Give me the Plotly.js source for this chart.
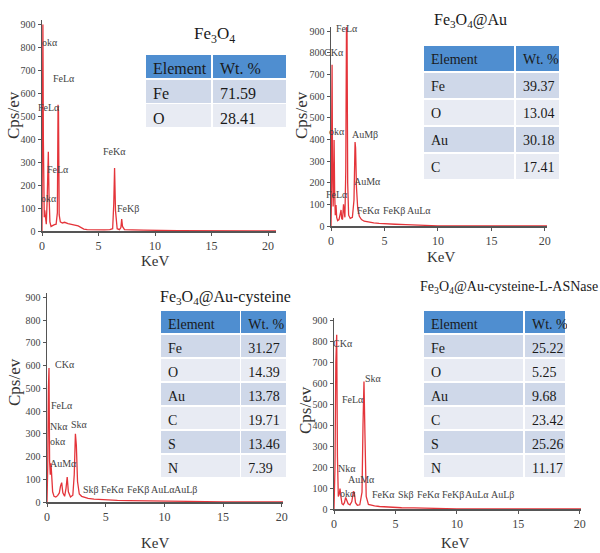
<!DOCTYPE html>
<html>
<head>
<meta charset="utf-8">
<script src="https://cdn.plot.ly/plotly-3.0.1.min.js"></script>
<style>html,body{margin:0;padding:0;background:#fff;}#chart{width:600px;height:553px;}</style>
</head>
<body>
<div id="chart"></div>
<script>
// ---------- data ----------
// Panel 1: Fe3O4
const kev1 = [0, 0.04, 0.08, 0.12, 0.16, 0.2, 0.24, 0.3, 0.38, 0.46, 0.52, 0.56, 0.62, 0.7, 0.8, 0.95, 1.1, 1.25, 1.36, 1.42, 1.46, 1.52, 1.62, 1.8, 2.0, 2.3, 2.6, 2.9, 3.2, 3.5, 3.7, 4.0, 4.5, 5.0, 5.5, 6.0, 6.25, 6.35, 6.42, 6.5, 6.65, 6.85, 6.98, 7.05, 7.12, 7.3, 7.6, 8.0, 9.0, 10.0, 11.0, 12.0, 20.7];
const cps1 = [0, 300, 900, 400, 80, 60, 90, 60, 30, 140, 300, 346, 160, 40, 20, 25, 28, 30, 80, 550, 520, 70, 40, 35, 38, 32, 30, 26, 22, 14, 8, 6, 5, 6, 5, 6, 10, 120, 275, 90, 10, 6, 15, 52, 20, 6, 5, 5, 4, 3, 2, 1, 0];
// Panel 2: Fe3O4@Au
const kev2 = [0, 0.03, 0.07, 0.1, 0.14, 0.2, 0.25, 0.29, 0.34, 0.4, 0.47, 0.53, 0.62, 0.75, 0.88, 0.94, 1.0, 1.08, 1.17, 1.22, 1.3, 1.38, 1.45, 1.5, 1.56, 1.65, 1.8, 2.0, 2.15, 2.25, 2.3, 2.38, 2.5, 2.65, 2.85, 3.1, 3.5, 4.0, 4.5, 5.0, 6.0, 7.0, 8.0, 9.0, 10.0, 20.2];
const cps2 = [0, 80, 500, 745, 300, 90, 200, 398, 160, 50, 97, 40, 25, 30, 60, 74, 35, 30, 100, 60, 40, 250, 940, 900, 200, 50, 35, 40, 120, 388, 360, 180, 80, 45, 30, 22, 18, 14, 12, 10, 8, 6, 4, 3, 1, 0];
// Panel 3: Fe3O4@Au-cysteine
const kev3 = [0, 0.06, 0.12, 0.17, 0.22, 0.28, 0.34, 0.4, 0.48, 0.6, 0.75, 0.9, 1.05, 1.15, 1.25, 1.35, 1.5, 1.62, 1.72, 1.82, 2.0, 2.2, 2.32, 2.42, 2.5, 2.6, 2.75, 2.95, 3.2, 3.5, 4.0, 4.5, 5.0, 6.0, 7.0, 8.0, 9.0, 10.0, 11.0, 12.0, 13.5, 15.0, 20.1];
const cps3 = [0, 150, 500, 590, 180, 120, 170, 110, 45, 25, 22, 28, 40, 70, 85, 40, 25, 60, 110, 45, 22, 30, 120, 300, 250, 90, 35, 25, 20, 16, 13, 11, 9, 7, 6, 6, 5, 5, 4, 3, 2, 0, 0];
// Panel 4: Fe3O4@Au-cysteine-L-ASNase
const kev4 = [0, 0.08, 0.15, 0.22, 0.28, 0.35, 0.42, 0.49, 0.56, 0.65, 0.75, 0.85, 0.95, 1.05, 1.15, 1.3, 1.45, 1.58, 1.65, 1.75, 1.9, 2.1, 2.28, 2.36, 2.44, 2.52, 2.62, 2.8, 3.0, 3.3, 3.7, 4.2, 4.8, 5.5, 6.5, 7.5, 8.5, 10.0, 20.1];
const cps4 = [0, 200, 700, 830, 250, 60, 70, 97, 60, 25, 20, 30, 55, 40, 25, 20, 35, 84, 80, 30, 18, 20, 80, 400, 607, 350, 60, 22, 18, 15, 12, 10, 8, 6, 5, 4, 3, 1, 0];

// composition tables
const elements1 = ['Fe', 'O'];
const wt1 = [71.59, 28.41];
const elements2 = ['Fe', 'O', 'Au', 'C'];
const wt2 = [39.37, 13.04, 30.18, 17.41];
const elements3 = ['Fe', 'O', 'Au', 'C', 'S', 'N'];
const wt3 = [31.27, 14.39, 13.78, 19.71, 13.46, 7.39];
const elements4 = ['Fe', 'O', 'Au', 'C', 'S', 'N'];
const wt4 = [25.22, 5.25, 9.68, 23.42, 25.26, 11.17];
const tableHeader = ['Element', 'Wt.\u00a0%'];

// peak labels (text, KeV, Cps/ev)
const lab1 = ['okα', 'FeLα', 'FeLα', 'FeLα', 'okα', 'FeKα', 'FeKβ'];
const labX1 = [0.75, 1.95, 0.65, 1.45, 0.58, 6.45, 7.6];
const labY1 = [820, 667, 540, 266, 143, 346, 99];
const lab2 = ['FeLα', 'CKα', 'okα', 'AuMβ', 'AuMα', 'FeLα', 'FeKα', 'FeKβ', 'AuLα'];
const labX2 = [1.47, 0.25, 0.6, 3.2, 3.4, 0.55, 3.5, 5.9, 8.2];
const labY2 = [912, 800, 437, 421, 205, 144, 71, 71, 71];
const lab3 = ['CKα', 'FeLα', 'Nkα', 'okα', 'AuMα', 'Skα', 'Skβ', 'FeKα', 'FeKβ', 'AuLα', 'AuLβ'];
const labX3 = [1.55, 1.25, 1.05, 0.96, 1.39, 2.8, 3.74, 5.62, 7.74, 9.87, 11.83];
const labY3 = [607, 427, 332, 266, 171, 339, 54, 54, 54, 54, 54];
const lab4 = ['CKα', 'FeLα', 'Skα', 'Nkα', 'AuMα', 'okα', 'FeKα', 'Skβ', 'FeKα', 'FeKβ', 'AuLα', 'AuLβ'];
const labX4 = [0.75, 1.58, 3.25, 1.03, 2.2, 1.17, 4.0, 5.83, 7.66, 9.69, 11.64, 13.75];
const labY4 = [790, 520, 624, 195, 140, 73, 68, 68, 68, 68, 68, 68];

const titles = ['Fe<sub>3</sub>O<sub>4</sub>', 'Fe<sub>3</sub>O<sub>4</sub>@Au', 'Fe<sub>3</sub>O<sub>4</sub>@Au-cysteine', 'Fe<sub>3</sub>O<sub>4</sub>@Au-cysteine-L-ASNase'];
const xTickVals = [0, 5, 10, 15, 20];
const yTickVals = [0, 100, 200, 300, 400, 500, 600, 700, 800, 900];

// ---------- layout helpers ----------
const W = 600, H = 553;
const SERIF = 'Liberation Serif, Times New Roman, serif';
const px = v => v / W;
const py = v => 1 - v / H;

const panels = [
  {x0: 42, x1: 276, yb: 231, yt: 20, xr: [0, 20.7], yr: [0, 920], tx: 214, ty: 35, tsize: 17,
   ytx: 14, yty: 115, kx: 155, ky: 261,
   tbl: {x: [145, 287], y: [54, 128], cw: [67, 75], hh: 25, ch: 24.5, fs: 16}},
  {x0: 331, x1: 547, yb: 226, yt: 27, xr: [0, 20.2], yr: [0, 920], tx: 470, ty: 21, tsize: 16,
   ytx: 302, yty: 115, kx: 441, ky: 257,
   tbl: {x: [423, 560], y: [45, 180], cw: [92, 45], hh: 27, ch: 27, fs: 14}},
  {x0: 47, x1: 283, yb: 502, yt: 293, xr: [0, 20.1], yr: [0, 920], tx: 225, ty: 297, tsize: 16,
   ytx: 14, yty: 382, kx: 155, ky: 543,
   tbl: {x: [160, 288], y: [310, 478], cw: [81, 47], hh: 24, ch: 24, fs: 14}},
  {x0: 334, x1: 581, yb: 509, yt: 318, xr: [0, 20.1], yr: [0, 910], tx: 509, ty: 287, tsize: 14,
   ytx: 305, yty: 410, kx: 455, ky: 543,
   tbl: {x: [423, 566], y: [310, 478], cw: [101, 42], hh: 24, ch: 24, fs: 14}}
];

const spectra = [[kev1, cps1], [kev2, cps2], [kev3, cps3], [kev4, cps4]];
const tables = [[elements1, wt1], [elements2, wt2], [elements3, wt3], [elements4, wt4]];
const labels = [[lab1, labX1, labY1], [lab2, labX2, labY2], [lab3, labX3, labY3], [lab4, labX4, labY4]];

const data = [];
const layout = {
  width: W, height: H,
  margin: {l: 0, r: 0, t: 0, b: 0},
  paper_bgcolor: '#ffffff', plot_bgcolor: 'rgba(0,0,0,0)',
  showlegend: false,
  font: {family: SERIF, color: '#333'},
  annotations: []
};

const HEAD = '#4f8ed0', ROW_A = '#cfd8e9', ROW_B = '#e8ebf3';

panels.forEach((p, i) => {
  const n = i + 1;
  const xa = 'xaxis' + (n === 1 ? '' : n), ya = 'yaxis' + (n === 1 ? '' : n);
  const xr = 'x' + (n === 1 ? '' : n), yr = 'y' + (n === 1 ? '' : n);
  layout[xa] = {
    domain: [px(p.x0), px(p.x1)], range: p.xr, anchor: yr,
    showline: true, linecolor: '#555', linewidth: 1.5,
    ticks: 'outside', ticklen: 3, tickcolor: '#555',
    tickvals: xTickVals, showgrid: false, zeroline: false,
    tickfont: {family: SERIF, size: 12, color: '#444'}, fixedrange: true
  };
  layout[ya] = {
    domain: [py(p.yb), py(p.yt)], range: p.yr, anchor: xr,
    showline: true, linecolor: '#555', linewidth: 1.5,
    ticks: 'outside', ticklen: 3, tickcolor: '#555',
    tickvals: yTickVals, showgrid: false, zeroline: false,
    tickfont: {family: SERIF, size: 10, color: '#444'}, fixedrange: true
  };
  const [kx, ky] = spectra[i];
  data.push({
    type: 'scatter', mode: 'lines', x: kx, y: ky, xaxis: xr, yaxis: yr,
    line: {color: 'rgb(228,52,58)', width: 1.3}, hoverinfo: 'skip'
  });
  const [el, wt] = tables[i];
  const fills = el.map((_, k) => (k % 2 === 0 ? ROW_A : ROW_B));
  data.push({
    type: 'table',
    domain: {x: [px(p.tbl.x[0]), px(p.tbl.x[1])], y: [py(p.tbl.y[1] + 6), py(p.tbl.y[0])]},
    columnwidth: p.tbl.cw,
    header: {
      values: tableHeader, align: 'left', height: p.tbl.hh,
      fill: {color: HEAD}, line: {color: '#ffffff', width: 1.5},
      font: {family: SERIF, size: p.tbl.fs, color: '#1a1a1a'}
    },
    cells: {
      values: [el, wt], format: ['', '.2f'], align: 'left', height: p.tbl.ch,
      fill: {color: [fills, fills]}, line: {color: '#ffffff', width: 1.5},
      font: {family: SERIF, size: p.tbl.fs, color: '#1a1a1a'}
    }
  });
  layout.annotations.push({
    xref: 'paper', yref: 'paper', x: px(p.tx), y: py(p.ty), xanchor: 'center', yanchor: 'middle',
    text: titles[i], showarrow: false, font: {family: SERIF, size: p.tsize, color: '#1a1a1a'}
  });
  layout.annotations.push({
    xref: 'paper', yref: 'paper', x: px(p.ytx), y: py(p.yty), xanchor: 'center', yanchor: 'middle',
    text: 'Cps/ev', textangle: -90, showarrow: false, font: {family: SERIF, size: 17, color: '#333'}
  });
  layout.annotations.push({
    xref: 'paper', yref: 'paper', x: px(p.kx), y: py(p.ky), xanchor: 'center', yanchor: 'middle',
    text: 'KeV', showarrow: false, font: {family: SERIF, size: 15, color: '#333'}
  });
  const [lt, lx, ly] = labels[i];
  lt.forEach((t, k) => {
    layout.annotations.push({
      xref: xr, yref: yr, x: lx[k], y: ly[k], xanchor: 'center', yanchor: 'middle',
      text: t, showarrow: false, font: {family: SERIF, size: 10, color: '#444'}
    });
  });
});

Plotly.newPlot('chart', data, layout, {staticPlot: true, displayModeBar: false});
</script>
</body>
</html>
